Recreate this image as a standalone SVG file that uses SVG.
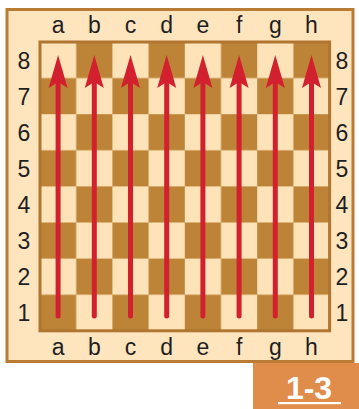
<svg xmlns="http://www.w3.org/2000/svg" width="359" height="409" viewBox="0 0 359 409">
<style>
.lbl{font-family:"Liberation Sans",Arial,sans-serif;font-size:23px;fill:#1e1e1e;text-anchor:middle}
.arr line{stroke:#D3202E;stroke-width:5;stroke-linecap:round}
.arr path{fill:#D3202E}
</style>
<defs>
<pattern id="chk" patternUnits="userSpaceOnUse" x="40" y="42" width="72.4" height="72.2">
<rect width="72.4" height="72.2" fill="#BD8438"/>
<rect x="0" y="0" width="36.2" height="36.1" fill="#FEE3B8"/>
<rect x="36.2" y="36.1" width="36.2" height="36.1" fill="#FEE3B8"/>
</pattern>
<g id="arrow" class="arr">
<line x1="0" y1="316" x2="0" y2="80"/>
<path d="M0,55 L9.5,88 L0,82 L-9.5,88 Z"/>
</g>
</defs>
<g id="frame">
<rect x="7" y="9.5" width="346" height="352" fill="#FEE5BE" stroke="#BA7B35" stroke-width="3"/>
</g>
<g id="board">
<rect x="40" y="42" width="289.6" height="288.8" fill="url(#chk)" stroke="#B07530" stroke-width="3"/>
</g>
<g id="labels">
<g id="files-top">
<text class="lbl" x="58.1" y="33">a</text>
<text class="lbl" x="94.3" y="33">b</text>
<text class="lbl" x="130.5" y="33">c</text>
<text class="lbl" x="166.7" y="33">d</text>
<text class="lbl" x="202.9" y="33">e</text>
<text class="lbl" x="239.1" y="33">f</text>
<text class="lbl" x="275.3" y="33">g</text>
<text class="lbl" x="311.5" y="33">h</text>
</g>
<g id="files-bottom">
<text class="lbl" x="58.1" y="355">a</text>
<text class="lbl" x="94.3" y="355">b</text>
<text class="lbl" x="130.5" y="355">c</text>
<text class="lbl" x="166.7" y="355">d</text>
<text class="lbl" x="202.9" y="355">e</text>
<text class="lbl" x="239.1" y="355">f</text>
<text class="lbl" x="275.3" y="355">g</text>
<text class="lbl" x="311.5" y="355">h</text>
</g>
<g id="ranks-left">
<text class="lbl" x="24" y="68.5">8</text>
<text class="lbl" x="24" y="104.6">7</text>
<text class="lbl" x="24" y="140.7">6</text>
<text class="lbl" x="24" y="176.8">5</text>
<text class="lbl" x="24" y="212.9">4</text>
<text class="lbl" x="24" y="249">3</text>
<text class="lbl" x="24" y="285.1">2</text>
<text class="lbl" x="24" y="321.2">1</text>
</g>
<g id="ranks-right">
<text class="lbl" x="342" y="68.5">8</text>
<text class="lbl" x="342" y="104.6">7</text>
<text class="lbl" x="342" y="140.7">6</text>
<text class="lbl" x="342" y="176.8">5</text>
<text class="lbl" x="342" y="212.9">4</text>
<text class="lbl" x="342" y="249">3</text>
<text class="lbl" x="342" y="285.1">2</text>
<text class="lbl" x="342" y="321.2">1</text>
</g>
</g>
<g id="connectors">
<use href="#arrow" x="58.1"/>
<use href="#arrow" x="94.3"/>
<use href="#arrow" x="130.5"/>
<use href="#arrow" x="166.7"/>
<use href="#arrow" x="202.9"/>
<use href="#arrow" x="239.1"/>
<use href="#arrow" x="275.3"/>
<use href="#arrow" x="311.5"/>
</g>
<g id="badge">
<rect x="253" y="363" width="106" height="46" fill="#E08C4A"/>
<text x="309" y="399" font-family="Liberation Sans,Arial,sans-serif" font-size="32" font-weight="bold" fill="#FFFFFF" text-anchor="middle">1-3</text>
<rect x="278" y="402" width="63" height="2.2" fill="#FFFFFF"/>
</g>
</svg>
